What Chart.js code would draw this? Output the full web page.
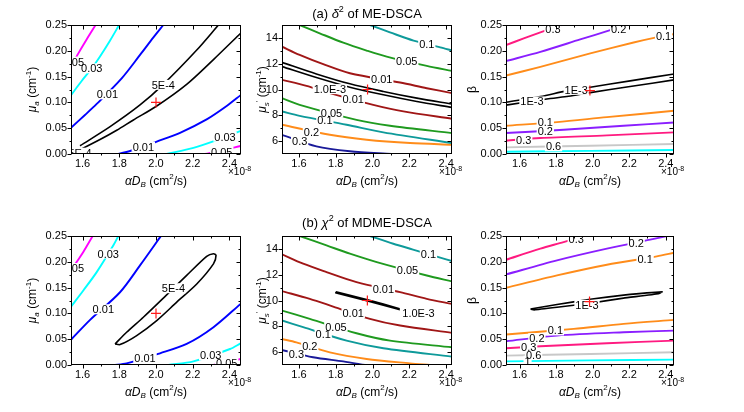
<!DOCTYPE html>
<html>
<head>
<meta charset="utf-8">
<script src="https://cdn.jsdelivr.net/npm/chart.js@4.4.0/dist/chart.umd.min.js"></script>
<style>
  html, body { margin: 0; padding: 0; background: #fff; }
  #fig { position: relative; width: 744px; height: 412px; overflow: hidden; background: #fff; }
  canvas { position: absolute; }
</style>
</head>
<body>
<div id="fig"></div>
<script>
// ---- axis ticks (x in units of 1e-8 cm^2/s) ----
const xTicks = [1.6, 1.8, 2.0, 2.2, 2.4];
const xMinor = [1.7, 1.9, 2.1, 2.3];
const muaTicks = [0, 0.05, 0.1, 0.15, 0.2, 0.25];
const muaMinor = [0.025, 0.075, 0.125, 0.175, 0.225];
const musTicks = [6, 8, 10, 12, 14];
const musMinor = [7, 9, 11, 13];

// true parameter markers (red +), one per panel
const markX = [2.0, 1.973, 1.985, 2.0, 1.972, 1.983];
const markY = [0.1, 10.0, 0.123, 0.1, 10.0, 0.123];

// ---- (a) panel 1 : mu_a vs alphaDB ----
const a1Mag1 = [[1.537, 0.169], [1.577, 0.195], [1.622, 0.222], [1.671, 0.25]];
const a1Mag2 = [[2.267, 0], [2.36, 0.007], [2.461, 0.0155]];
const a1Cyan1 = [[1.537, 0.114], [1.595, 0.1415], [1.650, 0.166], [1.695, 0.189], [1.750, 0.220], [1.799, 0.25]];
const a1Cyan2 = [[2.058, 0], [2.204, 0.012], [2.331, 0.027], [2.461, 0.0446]];
const a1Blue1 = [[1.537, 0.051], [1.613, 0.0756], [1.677, 0.097], [1.813, 0.1466], [1.913, 0.192], [1.986, 0.226], [2.040, 0.25]];
const a1Blue2 = [[1.795, 0], [1.877, 0.0078], [2.004, 0.024], [2.131, 0.041], [2.276, 0.067], [2.385, 0.093], [2.461, 0.114]];
const a1Blk1 = [[1.586, 0.016], [1.750, 0.053], [1.913, 0.095], [2.040, 0.135], [2.222, 0.2015], [2.340, 0.25]];
const a1Blk2 = [[1.541, 0], [1.695, 0.028], [1.786, 0.046], [1.877, 0.066], [2.0, 0.092], [2.167, 0.135], [2.313, 0.183], [2.461, 0.234]];
const a1LabText = ['0.05', '0.05', '0.03', '0.03', '0.01', '0.01', '5E-4', '5E-4'];
const a1LabX = [1.550, 2.358, 1.650, 2.376, 1.735, 1.931, 2.040, 1.586];
const a1LabY = [0.179, 0.0045, 0.166, 0.0336, 0.1156, 0.0142, 0.134, 0.0025];

// ---- (a) panel 2 : mu_s' vs alphaDB ----
const a2Teal1 = [[1.986, 15], [2.095, 14.43], [2.223, 13.79], [2.368, 13.27], [2.432, 13.02]];
const a2Green1 = [[1.604, 15], [1.713, 14.36], [1.841, 13.63], [1.968, 13.02], [2.077, 12.55], [2.295, 11.83], [2.432, 11.44]];
const a2Red1 = [[1.508, 13.32], [1.604, 12.68], [1.732, 11.96], [1.877, 11.26], [2.150, 10.54], [2.295, 10.10], [2.432, 9.72]];
const a2Blk1 = [[1.508, 12.11], [1.695, 11.21], [1.877, 10.44], [2.059, 9.85], [2.241, 9.33], [2.432, 8.87]];
const a2Blk2 = [[1.508, 11.78], [1.695, 10.93], [1.877, 10.18], [2.059, 9.59], [2.241, 9.07], [2.432, 8.61]];
const a2Red2 = [[1.508, 10.75], [1.641, 10.28], [1.768, 9.72], [2.004, 8.81], [2.168, 8.30], [2.432, 7.73]];
const a2Green2 = [[1.508, 9.33], [1.604, 8.81], [1.913, 7.65], [2.095, 7.19], [2.432, 6.62]];
const a2Teal2 = [[1.508, 8.30], [1.604, 7.96], [1.859, 7.27], [2.059, 6.68], [2.432, 5.85]];
const a2Orange = [[1.508, 7.27], [1.768, 6.49], [1.968, 6.11], [2.204, 5.85], [2.432, 5.72]];
const a2Navy = [[1.508, 6.49], [1.695, 5.59], [1.877, 5.21], [2.104, 5.0]];
const a2LabText = ['0.1', '0.05', '0.01', '1.0E-3', '0.01', '0.05', '0.1', '0.2', '0.3'];
const a2LabX = [2.295, 2.186, 2.05, 1.768, 1.895, 1.777, 1.741, 1.668, 1.604];
const a2LabY = [13.5, 12.2, 10.82, 10.03, 9.25, 8.2, 7.6, 6.72, 6.0];

// ---- (a) panel 3 : beta vs alphaDB ----
const a3Pink1 = [[1.526, 0.211], [1.623, 0.224], [1.714, 0.2357], [1.83, 0.25]];
const a3Purple1 = [[1.526, 0.180], [1.714, 0.198], [1.932, 0.222], [2.096, 0.240], [2.18, 0.25]];
const a3Orange1 = [[1.526, 0.152], [1.714, 0.169], [1.987, 0.195], [2.224, 0.216], [2.342, 0.2254], [2.446, 0.2325]];
const a3Blk1 = [[1.526, 0.1005], [1.714, 0.1114], [1.859, 0.1224], [1.987, 0.1294], [2.205, 0.1417], [2.446, 0.1552]];
const a3Blk2 = [[1.526, 0.0947], [1.768, 0.1075], [1.868, 0.112], [1.987, 0.119], [2.205, 0.1307], [2.446, 0.1436]];
const a3Orange2 = [[1.526, 0.0547], [1.805, 0.0618], [2.078, 0.0715], [2.446, 0.0837]];
const a3Purple2 = [[1.526, 0.0406], [1.841, 0.047], [2.169, 0.0547], [2.446, 0.0612]];
const a3Pink2 = [[1.526, 0.0258], [1.714, 0.0309], [2.078, 0.036], [2.446, 0.0419]];
const a3Gray = [[1.526, 0.0129], [1.987, 0.0161], [2.446, 0.0193]];
const a3Cyan = [[1.526, 0.0045], [1.987, 0.006], [2.446, 0.0077]];
const a3LabText = ['0.3', '0.2', '0.1', '1E-3', '1E-3', '0.1', '0.2', '0.3', '0.6'];
const a3LabX = [1.783, 2.142, 2.388, 1.910, 1.668, 1.741, 1.741, 1.623, 1.786];
const a3LabY = [0.2415, 0.2425, 0.2286, 0.1243, 0.1018, 0.0612, 0.0451, 0.0277, 0.0148];

// ---- (b) panel 1 ----
const b1Mag1 = [[1.537, 0.18], [1.564, 0.1975], [1.604, 0.219], [1.655, 0.25]];
const b1Mag2 = [[2.313, 0], [2.461, 0.0117]];
const b1Cyan1 = [[1.537, 0.113], [1.604, 0.1444], [1.677, 0.180], [1.768, 0.232], [1.795, 0.25]];
const b1Cyan2 = [[2.067, 0], [2.204, 0.007], [2.403, 0.031], [2.461, 0.042]];
const b1Blue1 = [[1.537, 0.049], [1.641, 0.0874], [1.804, 0.141], [1.913, 0.193], [2.027, 0.25]];
const b1Blue2 = [[1.768, 0], [1.840, 0.003], [2.022, 0.0227], [2.167, 0.0408], [2.313, 0.0732], [2.461, 0.1185]];
const b1Loop = [[1.777, 0.0408], [1.840, 0.0635], [1.931, 0.0926], [2.058, 0.136], [2.167, 0.1736], [2.276, 0.2105],
  [2.313, 0.2157], [2.327, 0.2125], [2.313, 0.196], [2.222, 0.157], [2.113, 0.1218], [2.004, 0.0861],
  [1.895, 0.057], [1.804, 0.0395], [1.777, 0.0408]];
const b1LabText = ['0.05', '0.05', '0.03', '0.03', '0.01', '0.01', '5E-4'];
const b1LabX = [1.550, 2.385, 1.740, 2.298, 1.713, 1.940, 2.095];
const b1LabY = [0.188, 0.004, 0.216, 0.0185, 0.108, 0.0138, 0.1488];

// ---- (b) panel 2 ----
const b2Teal1 = [[1.986, 15], [2.113, 14.40], [2.22, 13.95], [2.368, 13.32], [2.432, 13.06]];
const b2Green1 = [[1.604, 15], [1.75, 14.27], [1.877, 13.63], [2.023, 12.98], [2.295, 11.94], [2.432, 11.48]];
const b2Red1 = [[1.508, 13.58], [1.623, 12.85], [1.75, 12.2], [1.913, 11.42], [2.150, 10.65], [2.295, 10.13], [2.432, 9.74]];
const b2Loop = [[1.801, 10.67], [1.877, 10.41], [1.973, 10.05], [2.059, 9.72], [2.144, 9.38], [2.144, 9.30],
  [2.059, 9.63], [1.973, 9.96], [1.877, 10.32], [1.801, 10.60], [1.801, 10.67]];
const b2Red2 = [[1.508, 10.73], [1.659, 10.13], [1.786, 9.53], [1.986, 8.58], [2.150, 8.06], [2.432, 7.49]];
const b2Green2 = [[1.508, 9.22], [1.659, 8.58], [1.913, 7.46], [2.095, 6.89], [2.432, 6.37]];
const b2Teal2 = [[1.508, 8.45], [1.623, 7.93], [1.859, 6.89], [2.059, 6.30], [2.432, 5.65]];
const b2Orange = [[1.508, 7.02], [1.586, 6.76], [1.768, 5.98], [1.968, 5.47], [2.204, 5.13], [2.313, 5.0]];
const b2Navy = [[1.508, 6.17], [1.677, 5.60], [1.841, 5.28], [1.959, 5.0]];
const b2LabText = ['0.1', '0.05', '0.01', '1.0E-3', '0.01', '0.05', '0.1', '0.2', '0.3'];
const b2LabX = [2.304, 2.19, 2.059, 2.25, 1.895, 1.801, 1.732, 1.659, 1.586];
const b2LabY = [13.58, 12.33, 10.93, 9.02, 9.02, 7.96, 7.43, 6.47, 5.86];

// ---- (b) panel 3 ----
const b3Pink1 = [[1.526, 0.204], [1.714, 0.2254], [1.841, 0.2383], [1.95, 0.25]];
const b3Purple1 = [[1.526, 0.1755], [1.805, 0.2027], [2.078, 0.2254], [2.315, 0.2429], [2.406, 0.25]];
const b3Orange1 = [[1.526, 0.1496], [1.805, 0.1736], [2.078, 0.1943], [2.351, 0.2105], [2.446, 0.2176]];
const b3Loop = [[1.660, 0.1085], [1.805, 0.1172], [1.987, 0.1275], [2.169, 0.1355], [2.380, 0.1418], [2.360, 0.1382],
  [2.169, 0.1296], [1.987, 0.1198], [1.805, 0.1118], [1.680, 0.1068], [1.660, 0.1085]];
const b3Orange2 = [[1.526, 0.059], [1.896, 0.07], [2.169, 0.0797], [2.446, 0.0874]];
const b3Purple2 = [[1.526, 0.046], [1.805, 0.057], [2.169, 0.0635], [2.446, 0.0667]];
const b3Pink2 = [[1.526, 0.0324], [1.714, 0.0363], [2.078, 0.0421], [2.446, 0.0473]];
const b3Gray = [[1.526, 0.0181], [1.987, 0.0214], [2.446, 0.0246]];
const b3Cyan = [[1.526, 0.0071], [1.987, 0.009], [2.446, 0.0104]];
const b3LabText = ['0.3', '0.2', '0.1', '1E-3', '0.1', '0.2', '0.3', '0.6', '1'];
const b3LabX = [1.910, 2.238, 2.287, 1.969, 1.796, 1.695, 1.650, 1.677, 1.644];
const b3LabY = [0.244, 0.2372, 0.2062, 0.1165, 0.067, 0.052, 0.035, 0.0201, 0.0084];

const COLORS = {
  magenta: '#ff00ff', cyan: '#00ffff', blue: '#0000ff', black: '#000000',
  teal: '#0e9a9a', green: '#1f9a1f', darkred: '#a01616', orange: '#ff8c1a', navy: '#1a1a99',
  pink: '#ff1a80', purple: '#8a1eff', gray: '#c8c8c8'
};

const FONT = '"Liberation Sans", Arial, Helvetica, sans-serif';

// rich text runs: [text, kind] kind: '' normal, 'i' italic, 'isub' italic subscript, 'sup' superscript
const xTitle = [['α', 'i'], ['D', 'i'], ['B', 'isub'], [' (cm', ''], ['2', 'sup'], ['/s)', '']];
const xExp = [['×10', ''], ['-8', 'sup']];
const muaTitle = [['μ', 'i'], ['a', 'isub'], [' (cm', ''], ['-1', 'sup'], [')', '']];
const musTitle = [['μ', 'i'], ['s', 'isub'], ["'", 'sup'], [' (cm', ''], ['-1', 'sup'], [')', '']];
const betaTitle = [['β', '']];
const titleA = [['(a) ', ''], ['δ', 'i'], ['2', 'sup'], [' of ME-DSCA', '']];
const titleB = [['(b) ', ''], ['χ', 'i'], ['2', 'sup'], [' of MDME-DSCA', '']];

function drawRich(ctx, runs, x, y, size, align) {
  const parts = runs.map(([t, k]) => {
    const small = k === 'isub' || k === 'sup';
    const s = small ? Math.round(size * 0.7) : size;
    const font = (k === 'i' || k === 'isub' ? 'italic ' : '') + s + 'px ' + FONT;
    ctx.font = font;
    const dy = k === 'sup' ? -size * 0.38 : (small ? size * 0.3 : 0);
    return { t, font, dy, w: ctx.measureText(t).width };
  });
  const total = parts.reduce((s, p) => s + p.w, 0);
  let cx = align === 'center' ? x - total / 2 : x;
  ctx.fillStyle = '#000';
  ctx.textAlign = 'left';
  ctx.textBaseline = 'middle';
  parts.forEach(p => {
    ctx.font = p.font;
    ctx.fillText(p.t, cx, y + p.dy);
    cx += p.w;
  });
}

// contour labels sit in a white gap cut out of the line
function drawLabels(chart, p) {
  const ctx = chart.ctx, a = chart.chartArea;
  const xs = chart.scales.x, ys = chart.scales.y;
  ctx.save();
  ctx.beginPath();
  ctx.rect(a.left, a.top, a.right - a.left, a.bottom - a.top);
  ctx.clip();
  ctx.font = '11px ' + FONT;
  const pos = p.labText.map((t, i) => [t, xs.getPixelForValue(p.labX[i]), ys.getPixelForValue(p.labY[i]), ctx.measureText(t).width]);
  ctx.fillStyle = '#fff';
  pos.forEach(([t, x, y, w]) => ctx.fillRect(x - w / 2 - 1, y - 5, w + 2, 10));
  ctx.fillStyle = '#000';
  ctx.textAlign = 'center';
  ctx.textBaseline = 'alphabetic';
  pos.forEach(([t, x, y]) => ctx.fillText(t, x, y + 4));
  ctx.restore();
}

function drawFrame(chart, p) {
  const ctx = chart.ctx, a = chart.chartArea;
  const xs = chart.scales.x, ys = chart.scales.y;
  const L = Math.round(a.left) + 0.5, R = Math.round(a.right) - 0.5;
  const T = Math.round(a.top) + 0.5, B = Math.round(a.bottom) - 0.5;
  ctx.save();
  ctx.strokeStyle = '#000';
  ctx.lineWidth = 1;
  ctx.strokeRect(L, T, R - L, B - T);
  ctx.beginPath();
  const xt = (vals, len) => vals.forEach(v => {
    const x = Math.round(xs.getPixelForValue(v)) + 0.5;
    ctx.moveTo(x, B); ctx.lineTo(x, B + len);
    ctx.moveTo(x, T); ctx.lineTo(x, T + len);
  });
  const yt = (vals, len) => vals.forEach(v => {
    const y = Math.round(ys.getPixelForValue(v)) + 0.5;
    ctx.moveTo(L, y); ctx.lineTo(L - len, y);
    ctx.moveTo(R, y); ctx.lineTo(R - len, y);
  });
  xt(xTicks, 4); xt(xMinor, 2);
  yt(p.yTicks, 4); yt(p.yMinor, 2);
  ctx.stroke();

  drawRich(ctx, xTitle, (a.left + a.right) / 2, a.bottom + 27.5, 12, 'center');
  drawRich(ctx, xExp, a.right - 13, a.bottom + 18.5, 10, 'left');
  ctx.save();
  ctx.translate(a.left - p.yTitleGap, (a.top + a.bottom) / 2);
  ctx.rotate(-Math.PI / 2);
  drawRich(ctx, p.yTitle, 0, 0, 12, 'center');
  ctx.restore();
  if (p.title) drawRich(ctx, p.title, (a.left + a.right) / 2, a.top - p.titleGap, 13, 'center');
  ctx.restore();
}

const fig = document.getElementById('fig');
const PANEL_H = 129;

function makePanel(p) {
  const padT = 22, padR = 45, yW = 70, xH = 45;
  const cv = document.createElement('canvas');
  cv.width = p.width + yW + padR;
  cv.height = PANEL_H + padT + xH;
  cv.style.left = (p.left - yW) + 'px';
  cv.style.top = (p.top - padT) + 'px';
  fig.appendChild(cv);

  // dataset 0 is drawn last by Chart.js, so the marker ends on top
  const datasets = [{
    data: [{ x: markX[p.mark], y: markY[p.mark] }],
    showLine: false, pointStyle: 'cross', pointRadius: 5,
    borderColor: '#ff1a1a', borderWidth: 1.2
  }];
  p.lines.forEach(([pts, col, tension]) => {
    datasets.push({
      data: pts.map(([x, y]) => ({ x, y })),
      showLine: true, borderColor: COLORS[col], borderWidth: col === 'black' ? 1.6 : 1.9,
      pointRadius: 0, tension: tension === undefined ? 0.3 : tension, fill: false
    });
  });

  const deco = {
    id: 'deco',
    beforeDatasetDraw(chart, args) { if (args.index === 0) drawLabels(chart, p); },
    afterDraw(chart) { drawFrame(chart, p); }
  };

  new Chart(cv, {
    type: 'scatter',
    data: { datasets },
    plugins: [deco],
    options: {
      responsive: false, animation: false, devicePixelRatio: 1, events: [],
      layout: { padding: { left: 0, top: padT, right: padR, bottom: 0 } },
      plugins: { legend: { display: false }, tooltip: { enabled: false } },
      scales: {
        x: {
          type: 'linear', min: p.xMin, max: p.xMax,
          grid: { display: false, drawTicks: false }, border: { display: false },
          afterBuildTicks: s => { s.ticks = xTicks.map(v => ({ value: v })); },
          afterFit: s => { s.height = xH; },
          ticks: { padding: 3, color: '#000', font: { family: FONT, size: 11 }, maxRotation: 0, autoSkip: false,
                   callback: v => v.toFixed(1) }
        },
        y: {
          type: 'linear', min: p.yMin, max: p.yMax,
          grid: { display: false, drawTicks: false }, border: { display: false },
          afterBuildTicks: s => { s.ticks = p.yTicks.map(v => ({ value: v })); },
          afterFit: s => { s.width = yW; },
          ticks: { padding: 4, color: '#000', font: { family: FONT, size: 11 }, autoSkip: false,
                   callback: v => v.toFixed(p.yDigits) }
        }
      }
    }
  });
}

const rowTop = [25, 236];
const colLeft = [71, 282, 506];
const colWidth = [170, 170, 168];
const colX = [[1.537, 2.463], [1.508, 2.432], [1.526, 2.445]];

const muaPanel = (row, lines, labText, labX, labY, mark) => ({
  left: colLeft[0], top: rowTop[row], width: colWidth[0], xMin: colX[0][0], xMax: colX[0][1],
  yMin: 0, yMax: 0.25, yTicks: muaTicks, yMinor: muaMinor, yDigits: 2, yTitle: muaTitle, yTitleGap: 38,
  lines, labText, labX, labY, mark
});
const musPanel = (row, lines, labText, labX, labY, mark, title, titleGap) => ({
  left: colLeft[1], top: rowTop[row], width: colWidth[1], xMin: colX[1][0], xMax: colX[1][1],
  yMin: 5, yMax: 15, yTicks: musTicks, yMinor: musMinor, yDigits: 0, yTitle: musTitle, yTitleGap: 19,
  lines, labText, labX, labY, mark, title, titleGap
});
const betaPanel = (row, lines, labText, labX, labY, mark) => ({
  left: colLeft[2], top: rowTop[row], width: colWidth[2], xMin: colX[2][0], xMax: colX[2][1],
  yMin: 0, yMax: 0.25, yTicks: muaTicks, yMinor: muaMinor, yDigits: 2, yTitle: betaTitle, yTitleGap: 33,
  lines, labText, labX, labY, mark
});

makePanel(muaPanel(0, [
  [a1Mag1, 'magenta'], [a1Mag2, 'magenta'], [a1Cyan1, 'cyan'], [a1Cyan2, 'cyan'],
  [a1Blue1, 'blue'], [a1Blue2, 'blue'], [a1Blk1, 'black'], [a1Blk2, 'black']
], a1LabText, a1LabX, a1LabY, 0));

makePanel(musPanel(0, [
  [a2Teal1, 'teal'], [a2Green1, 'green'], [a2Red1, 'darkred'], [a2Blk1, 'black'], [a2Blk2, 'black'],
  [a2Red2, 'darkred'], [a2Green2, 'green'], [a2Teal2, 'teal'], [a2Orange, 'orange'], [a2Navy, 'navy']
], a2LabText, a2LabX, a2LabY, 1, titleA, 11));

makePanel(betaPanel(0, [
  [a3Pink1, 'pink'], [a3Purple1, 'purple'], [a3Orange1, 'orange'], [a3Blk1, 'black'], [a3Blk2, 'black'],
  [a3Orange2, 'orange'], [a3Purple2, 'purple'], [a3Pink2, 'pink'], [a3Gray, 'gray'], [a3Cyan, 'cyan']
], a3LabText, a3LabX, a3LabY, 2));

makePanel(muaPanel(1, [
  [b1Mag1, 'magenta'], [b1Mag2, 'magenta'], [b1Cyan1, 'cyan'], [b1Cyan2, 'cyan'],
  [b1Blue1, 'blue'], [b1Blue2, 'blue'], [b1Loop, 'black', 0.25]
], b1LabText, b1LabX, b1LabY, 3));

makePanel(musPanel(1, [
  [b2Teal1, 'teal'], [b2Green1, 'green'], [b2Red1, 'darkred'], [b2Loop, 'black', 0],
  [b2Red2, 'darkred'], [b2Green2, 'green'], [b2Teal2, 'teal'], [b2Orange, 'orange'], [b2Navy, 'navy']
], b2LabText, b2LabX, b2LabY, 4, titleB, 13));

makePanel(betaPanel(1, [
  [b3Pink1, 'pink'], [b3Purple1, 'purple'], [b3Orange1, 'orange'], [b3Loop, 'black', 0.1],
  [b3Orange2, 'orange'], [b3Purple2, 'purple'], [b3Pink2, 'pink'], [b3Gray, 'gray'], [b3Cyan, 'cyan']
], b3LabText, b3LabX, b3LabY, 5));
</script>
</body>
</html>
